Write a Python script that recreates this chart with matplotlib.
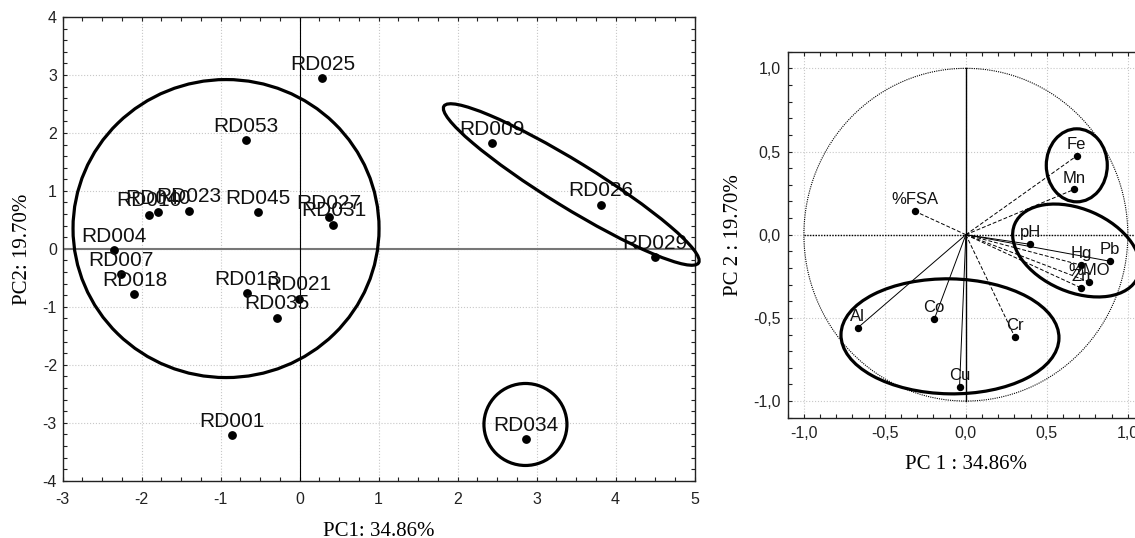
import matplotlib
matplotlib.use("Agg")
import matplotlib.pyplot as plt
import numpy as np
from matplotlib.patches import Ellipse, Circle
from matplotlib.transforms import ScaledTranslation
from matplotlib.ticker import MultipleLocator, FuncFormatter

# scores (left panel)
sample_names = ["RD025", "RD053", "RD010", "RD040", "RD023", "RD045", "RD027", "RD031",
                "RD004", "RD007", "RD018", "RD013", "RD021", "RD035", "RD001",
                "RD009", "RD026", "RD029", "RD034"]
pc1_scores = [0.29, -0.68, -1.91, -1.79, -1.40, -0.53, 0.37, 0.43,
              -2.35, -2.26, -2.09, -0.66, -0.01, -0.29, -0.85,
              2.44, 3.82, 4.50, 2.87]
pc2_scores = [2.95, 1.87, 0.59, 0.63, 0.66, 0.63, 0.55, 0.42,
              -0.02, -0.44, -0.78, -0.76, -0.86, -1.19, -3.21,
              1.82, 0.76, -0.14, -3.28]

# loadings (right panel)
var_names = ["Fe", "Mn", "%FSA", "pH", "Hg", "Pb", "%MO", "Zn", "Al", "Co", "Cr", "Cu"]
pc1_load = [0.685, 0.668, -0.313, 0.398, 0.712, 0.887, 0.759, 0.714, -0.668, -0.195, 0.303, -0.039]
pc2_load = [0.474, 0.272, 0.140, -0.058, -0.183, -0.159, -0.283, -0.321, -0.560, -0.508, -0.616, -0.914]
load_style = ["--", "--", "--", "-", "--", "-", "--", "--", "-", "-", "--", "-"]

# group rings: centre (data), width/height in pixels, angle in degrees
left_rings = [(-0.93, 0.35, 306, 298, 0), (3.44, 1.11, 299, 46, -31.6), (2.86, -3.03, 83, 82, 0)]
right_rings = [(0.685, 0.417, 61, 73, 0), (0.682, -0.095, 134, 83, -23.4), (-0.098, -0.611, 218, 115, -1)]

SANS = "Liberation Sans"
SERIF = "Liberation Serif"
DPI = 100

fig = plt.figure(figsize=(11.35, 5.38), dpi=DPI)
ax1 = fig.add_axes([0.05507, 0.10651, 0.55683, 0.86190])
ax2 = fig.add_axes([0.69401, 0.22361, 0.31392, 0.68030])


def ring(ax, cx, cy, w, h, ang):
    tr = fig.dpi_scale_trans + ScaledTranslation(cx, cy, ax.transData)
    ax.add_patch(Ellipse((0, 0), w / DPI, h / DPI, angle=ang, transform=tr, fill=False,
                         lw=2.3, ec="black", clip_on=False, zorder=5))


def style_axes(ax, xmaj, xmin, ymaj, ymin, fmt, xpad, ypad):
    ax.xaxis.set_major_locator(MultipleLocator(xmaj))
    ax.xaxis.set_minor_locator(MultipleLocator(xmin))
    ax.yaxis.set_major_locator(MultipleLocator(ymaj))
    ax.yaxis.set_minor_locator(MultipleLocator(ymin))
    ax.xaxis.set_major_formatter(FuncFormatter(fmt))
    ax.yaxis.set_major_formatter(FuncFormatter(fmt))
    ax.tick_params(which="both", direction="in", top=True, right=True, length=3, width=0.8,
                   colors="#222222", labelsize=11.5)
    ax.tick_params(axis="x", pad=xpad)
    ax.tick_params(axis="y", pad=ypad)
    for lab in ax.get_xticklabels() + ax.get_yticklabels():
        lab.set_fontfamily(SANS)
    ax.grid(True, which="major", ls=":", color="#c8c8c8", lw=0.8)
    ax.set_axisbelow(True)
    for s in ax.spines.values():
        s.set_linewidth(1.0)
        s.set_color("#222222")


# ---- left: scores ----
ax1.set_xlim(-3, 5)
ax1.set_ylim(-4, 4)
style_axes(ax1, 1, 0.25, 1, 0.2, lambda v, p: "%d" % round(v), 8, 4)
ax1.axhline(0, color="#777777", lw=1.5, zorder=1)
ax1.axvline(0, color="black", lw=0.8, zorder=1)
ax1.plot(pc1_scores, pc2_scores, "o", color="black", ms=5.3, zorder=3)
for n, x, y in zip(sample_names, pc1_scores, pc2_scores):
    ax1.annotate(n, (x, y), xytext=(0, 6), textcoords="offset points", ha="center",
                 va="baseline", fontsize=15, family=SANS, color="#111111", zorder=4)
for r in left_rings:
    ring(ax1, *r)
ax1.set_xlabel("PC1: 34.86%", family=SERIF, fontsize=15)
ax1.xaxis.set_label_coords(0.5, -0.089)
ax1.set_ylabel("PC2: 19.70%", family=SERIF, fontsize=15)
ax1.yaxis.set_label_coords(-0.049, 0.5)

# ---- right: loadings ----
ax2.set_xlim(-1.1, 1.1)
ax2.set_ylim(-1.1, 1.1)
style_axes(ax2, 0.5, 0.1, 0.5, 0.1, lambda v, p: ("%.1f" % v).replace(".", ","), 6, 5)
ax2.add_patch(Circle((0, 0), 1.0, fill=False, ls=(0, (1, 1)), lw=0.8, ec="black", zorder=2))
ax2.plot([-1, 1.1], [0, 0], ls=(0, (1, 1)), color="black", lw=1.0, zorder=2)
ax2.plot([0, 0], [-1, 1], color="black", lw=1.0, zorder=2)
for x, y, st in zip(pc1_load, pc2_load, load_style):
    ax2.plot([0, x], [0, y], ls=st, color="black", lw=0.7, dashes=(4, 2) if st == "--" else (None, None), zorder=2)
ax2.plot(pc1_load, pc2_load, "o", color="black", ms=4.3, zorder=3)
for n, x, y in zip(var_names, pc1_load, pc2_load):
    ax2.annotate(n, (x, y), xytext=(0, 5), textcoords="offset points", ha="center",
                 va="baseline", fontsize=12, family=SANS, color="#111111", zorder=4)
for r in right_rings:
    ring(ax2, *r)
ax2.set_xlabel("PC 1 : 34.86%", family=SERIF, fontsize=15)
ax2.xaxis.set_label_coords(0.5, -0.102)
ax2.set_ylabel("PC 2 : 19.70%", family=SERIF, fontsize=15)
ax2.yaxis.set_label_coords(-0.125, 0.5)

fig.savefig("out.png", dpi=DPI)
